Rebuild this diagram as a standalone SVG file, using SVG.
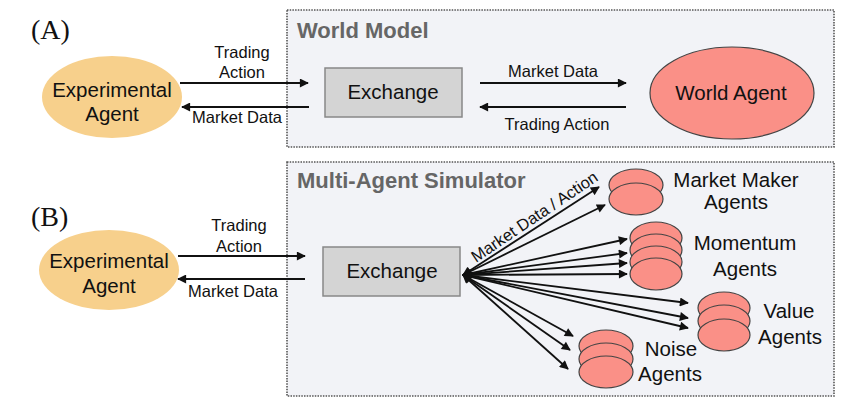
<svg xmlns="http://www.w3.org/2000/svg" width="846" height="403" viewBox="0 0 846 403">
<style>
.t{font-family:"Liberation Sans",Arial,sans-serif;fill:#111}
.m{font-size:20.5px}
.s{font-size:16.5px}
.h{font-family:"Liberation Sans",Arial,sans-serif;font-weight:bold;font-size:22px;fill:#666}
.p{font-family:"Liberation Serif","Times New Roman",serif;font-size:28px;fill:#111}
.frame{fill:#f2f3f7;stroke:#555;stroke-width:1.6;stroke-dasharray:1.5 1.2}
.exp{fill:#f7d08c}
.ex{fill:#d4d4d4;stroke:#888;stroke-width:1.5}
.ag{fill:#fa9087;stroke:#444;stroke-width:1.2}
.ln{stroke:#111;stroke-width:2;fill:none}
.fan{stroke:#111;stroke-width:1.8;fill:none;marker-end:url(#ah);marker-start:url(#ah)}
</style>
<defs>
<marker id="ah" viewBox="0 0 10 10" refX="9" refY="5" markerWidth="11" markerHeight="9" markerUnits="userSpaceOnUse" orient="auto-start-reverse">
<path d="M0,0 L10,5 L0,10 z" fill="#111"/>
</marker>
</defs>

<text class="p" x="31" y="39">(A)</text>
<text class="p" x="31" y="226">(B)</text>

<g id="worldModel">
<rect class="frame" x="287" y="10" width="547" height="137"/>
<text class="h" x="297" y="38">World Model</text>
</g>
<g id="multiAgentSimulator">
<rect class="frame" x="287" y="162" width="547" height="234"/>
<text class="h" x="297" y="188">Multi-Agent Simulator</text>
</g>

<g id="expAgentA">
<ellipse class="exp" cx="112" cy="97" rx="70" ry="41"/>
<text class="t m" x="112" y="97" text-anchor="middle">Experimental</text>
<text class="t m" x="112" y="121" text-anchor="middle">Agent</text>
</g>
<g id="exchangeA">
<rect class="ex" x="325" y="68" width="137" height="49"/>
<text class="t m" x="393" y="99" text-anchor="middle">Exchange</text>
</g>
<g id="worldAgent">
<ellipse class="ag" cx="732" cy="93" rx="82" ry="46"/>
<text class="t m" x="731" y="100" text-anchor="middle">World Agent</text>
</g>

<g id="expAgentB">
<ellipse class="exp" cx="109" cy="270" rx="70" ry="40"/>
<text class="t m" x="109" y="268" text-anchor="middle">Experimental</text>
<text class="t m" x="109" y="293" text-anchor="middle">Agent</text>
</g>
<g id="exchangeB">
<rect class="ex" x="323" y="247" width="137" height="49"/>
<text class="t m" x="392" y="278" text-anchor="middle">Exchange</text>
</g>

<g id="marketMakerAgents">
<ellipse class="ag" cx="636" cy="185" rx="27" ry="16"/>
<ellipse class="ag" cx="636" cy="199" rx="27" ry="16"/>
<text class="t m" x="736" y="187" text-anchor="middle">Market Maker</text>
<text class="t m" x="736" y="209" text-anchor="middle">Agents</text>
</g>
<g id="momentumAgents">
<ellipse class="ag" cx="656" cy="238" rx="26" ry="16"/>
<ellipse class="ag" cx="656" cy="250" rx="26" ry="16"/>
<ellipse class="ag" cx="656" cy="262" rx="26" ry="16"/>
<ellipse class="ag" cx="656" cy="274" rx="26" ry="16"/>
<text class="t m" x="745" y="250" text-anchor="middle">Momentum</text>
<text class="t m" x="745" y="276" text-anchor="middle">Agents</text>
</g>
<g id="valueAgents">
<ellipse class="ag" cx="724" cy="308" rx="26" ry="16"/>
<ellipse class="ag" cx="724" cy="321" rx="26" ry="16"/>
<ellipse class="ag" cx="724" cy="335" rx="26" ry="16"/>
<text class="t m" x="789" y="318" text-anchor="middle">Value</text>
<text class="t m" x="790" y="344" text-anchor="middle">Agents</text>
</g>
<g id="noiseAgents">
<ellipse class="ag" cx="606" cy="346" rx="27" ry="16"/>
<ellipse class="ag" cx="606" cy="359" rx="27" ry="16"/>
<ellipse class="ag" cx="606" cy="372" rx="27" ry="16"/>
<text class="t m" x="671" y="356" text-anchor="middle">Noise</text>
<text class="t m" x="670" y="381" text-anchor="middle">Agents</text>
</g>

<g id="connectors">
<line class="ln" x1="180" y1="83" x2="308" y2="83" marker-end="url(#ah)"/>
<line class="ln" x1="309" y1="107" x2="182" y2="107" marker-end="url(#ah)"/>
<text class="t s" x="242" y="58" text-anchor="middle">Trading</text>
<text class="t s" x="242" y="78" text-anchor="middle">Action</text>
<text class="t s" x="237" y="123" text-anchor="middle">Market Data</text>

<line class="ln" x1="480" y1="83" x2="626" y2="83" marker-end="url(#ah)"/>
<line class="ln" x1="626" y1="107" x2="480" y2="107" marker-end="url(#ah)"/>
<text class="t s" x="553" y="77" text-anchor="middle">Market Data</text>
<text class="t s" x="557" y="130" text-anchor="middle">Trading Action</text>

<line class="ln" x1="178" y1="256" x2="305" y2="256" marker-end="url(#ah)"/>
<line class="ln" x1="305" y1="279" x2="178" y2="279" marker-end="url(#ah)"/>
<text class="t s" x="239" y="231" text-anchor="middle">Trading</text>
<text class="t s" x="239" y="252" text-anchor="middle">Action</text>
<text class="t s" x="233" y="297" text-anchor="middle">Market Data</text>

<path class="fan" d="M463,275 L599,187"/>
<path class="fan" d="M463,275 L605,205"/>
<path class="fan" d="M463,275 L627,239"/>
<path class="fan" d="M463,275 L627,253"/>
<path class="fan" d="M463,275 L627,263"/>
<path class="fan" d="M463,275 L627,274"/>
<path class="fan" d="M463,275 L688,303"/>
<path class="fan" d="M463,275 L688,318"/>
<path class="fan" d="M463,275 L688,328"/>
<path class="fan" d="M463,275 L573,336"/>
<path class="fan" d="M463,275 L570,350"/>
<path class="fan" d="M463,275 L568,369"/>
<text class="t s" transform="translate(476,263) rotate(-34)">Market Data / Action</text>
</g>
</svg>
